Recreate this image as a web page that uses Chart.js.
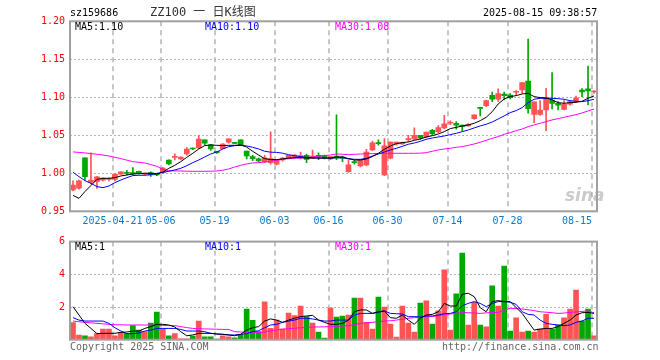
<!DOCTYPE html>
<html><head><meta charset="utf-8">
<script src="https://cdn.jsdelivr.net/npm/chart.js@4.4.1/dist/chart.umd.min.js"></script>
<style>
body{margin:0;background:#fff;}
#wrap{position:relative;width:660px;height:360px;overflow:hidden;font-family:"DejaVu Sans Mono",monospace;}
canvas{position:absolute;left:0;}
.t{position:absolute;white-space:nowrap;font-size:10px;line-height:12px;}
</style></head><body>
<div id="wrap">
<canvas id="kc" width="660" height="230" style="top:0"></canvas>
<canvas id="vc" width="660" height="130" style="top:230px"></canvas>
<div class="t" style="left:70px;top:7px;color:#000">sz159686</div>
<div class="t" style="left:150px;top:5px;font-size:12px;line-height:15px;color:#333;font-family:'DejaVu Sans Mono','Noto Sans CJK SC',monospace">ZZ100 一 日K线图</div>
<div class="t" style="left:483px;top:7px;color:#000">2025-08-15 09:38:57</div>
<div class="t" style="left:75px;top:21px;color:#000">MA5:1.10</div>
<div class="t" style="left:205px;top:21px;color:#0000ff">MA10:1.10</div>
<div class="t" style="left:335px;top:21px;color:#ff00ff">MA30:1.08</div>
<div class="t" style="left:75px;top:241px;color:#000">MA5:1</div>
<div class="t" style="left:205px;top:241px;color:#0000ff">MA10:1</div>
<div class="t" style="left:335px;top:241px;color:#ff00ff">MA30:1</div>
<div class="t" style="left:70px;top:341px;color:#666">Copyright 2025 SINA.COM</div>
<div class="t" style="left:442px;top:341px;color:#666">http://finance.sina.com.cn</div>
<div class="t" style="left:565px;top:186px;font-size:17px;line-height:18px;font-style:italic;font-weight:bold;color:rgba(160,160,160,0.55);font-family:'DejaVu Sans',sans-serif">sina</div>
</div>
<script>
const dates = [
'2025-04-10','2025-04-11','2025-04-14','2025-04-15','2025-04-16','2025-04-17','2025-04-18',
'2025-04-21','2025-04-22','2025-04-23','2025-04-24','2025-04-25','2025-04-28','2025-04-29','2025-04-30',
'2025-05-06','2025-05-07','2025-05-08','2025-05-09','2025-05-12','2025-05-13','2025-05-14','2025-05-15','2025-05-16',
'2025-05-19','2025-05-20','2025-05-21','2025-05-22','2025-05-23','2025-05-26','2025-05-27','2025-05-28','2025-05-29','2025-05-30',
'2025-06-03','2025-06-04','2025-06-05','2025-06-06','2025-06-09','2025-06-10','2025-06-11','2025-06-12','2025-06-13',
'2025-06-16','2025-06-17','2025-06-18','2025-06-19','2025-06-20','2025-06-23','2025-06-24','2025-06-25','2025-06-26','2025-06-27',
'2025-06-30','2025-07-01','2025-07-02','2025-07-03','2025-07-04','2025-07-07','2025-07-08','2025-07-09','2025-07-10','2025-07-11',
'2025-07-14','2025-07-15','2025-07-16','2025-07-17','2025-07-18','2025-07-21','2025-07-22','2025-07-23','2025-07-24','2025-07-25',
'2025-07-28','2025-07-29','2025-07-30','2025-07-31','2025-08-01','2025-08-04','2025-08-05','2025-08-06','2025-08-07','2025-08-08',
'2025-08-11','2025-08-12','2025-08-13','2025-08-14','2025-08-15'];

const open = [
0.978,0.9803,1.0202,0.988,0.989,0.991,0.992,0.992,0.999,1.0009,
1.001,1.0026,0.999,1.001,0.9995,1.001,1.0175,1.021,1.019,1.0254,
1.0333,1.0333,1.0439,1.0373,1.029,1.0325,1.041,1.040,1.0439,1.0294,
1.022,1.019,1.0149,1.014,1.012,1.0175,1.020,1.022,1.0219,1.0237,
1.020,1.0237,1.0237,1.019,1.0228,1.0215,1.0022,1.0149,1.0096,1.011,
1.0307,1.040,0.998,1.020,1.0386,1.0386,1.0443,1.0452,1.050,1.0478,
1.0566,1.0548,1.0597,1.0658,1.0658,1.0636,1.0623,1.072,1.0868,1.089,
1.1026,1.0974,1.1044,1.103,1.1066,1.1097,1.1215,1.0776,1.0776,1.0833,
1.0965,1.0921,1.0842,1.0908,1.0947,1.1096,1.111,1.107];
const high = [
0.990,0.991,1.0205,1.027,0.996,0.994,0.994,0.9995,1.002,1.004,
1.0075,1.003,1.000,1.002,1.000,1.008,1.0178,1.0255,1.0218,1.034,
1.0336,1.050,1.0442,1.038,1.029,1.039,1.0455,1.040,1.044,1.0294,
1.0237,1.020,1.0237,1.0545,1.018,1.021,1.024,1.025,1.028,1.0254,
1.0305,1.027,1.024,1.022,1.0768,1.0228,1.018,1.0175,1.0184,1.0316,
1.0425,1.044,1.0456,1.0415,1.041,1.0412,1.050,1.0597,1.050,1.0544,
1.058,1.0627,1.0763,1.069,1.068,1.0636,1.0654,1.0768,1.0868,1.0965,
1.107,1.111,1.107,1.105,1.1088,1.1193,1.1767,1.0939,1.0956,1.1118,
1.1325,1.0943,1.0956,1.0956,1.1017,1.1114,1.1412,1.1088];
const low = [
0.9768,0.979,0.991,0.986,0.980,0.990,0.990,0.990,0.9985,0.998,
0.998,0.999,0.998,0.996,0.997,0.9995,1.011,1.0175,1.018,1.024,
1.031,1.032,1.037,1.030,1.026,1.032,1.0395,1.039,1.037,1.019,
1.0167,1.015,1.014,1.012,1.011,1.016,1.019,1.020,1.019,1.014,
1.020,1.018,1.019,1.018,1.018,1.0154,1.001,1.012,1.0083,1.0096,
1.0298,1.037,0.997,1.019,1.037,1.038,1.0417,1.0439,1.0447,1.0465,
1.050,1.0535,1.0588,1.064,1.058,1.0557,1.062,1.071,1.0755,1.0877,
1.0943,1.0947,1.0965,1.098,1.1026,1.1053,1.079,1.0667,1.0763,1.0561,
1.0846,1.0833,1.0833,1.0895,1.0939,1.1009,1.0899,1.1053];
const close = [
0.9846,0.990,0.9956,0.991,0.9952,0.9938,0.9932,0.999,1.0018,1.000,
0.9996,1.000,0.9995,0.998,0.998,1.007,1.0123,1.022,1.0215,1.032,
1.032,1.045,1.0395,1.032,1.027,1.0385,1.0452,1.0393,1.0373,1.0228,
1.0193,1.0162,1.0202,1.0195,1.0175,1.020,1.0235,1.024,1.0226,1.0184,
1.0226,1.022,1.0206,1.022,1.020,1.020,1.011,1.014,1.0175,1.028,
1.040,1.039,1.036,1.041,1.041,1.0408,1.0456,1.050,1.0465,1.0544,
1.0522,1.060,1.065,1.0671,1.0632,1.0614,1.0645,1.0768,1.0855,1.0956,
1.0974,1.1048,1.1022,1.0996,1.1075,1.1193,1.0851,1.0939,1.0833,1.0996,
1.0921,1.0895,1.0912,1.0943,1.0991,1.107,1.1083,1.1079];

const ma5 = [
0.971,0.967,0.976,0.984,0.992,0.9934,0.9934,0.9943,0.9965,0.9978,
0.999,0.9996,1.000,1.000,0.999,1.0013,1.0066,1.0105,1.0154,1.021,
1.0263,1.032,1.0364,1.0373,1.0368,1.0364,1.0368,1.0368,1.0373,1.0345,
1.029,1.024,1.0193,1.018,1.018,1.0189,1.020,1.0206,1.0206,1.020,
1.020,1.020,1.020,1.020,1.0215,1.0215,1.0193,1.0175,1.0175,1.0189,
1.022,1.0263,1.0316,1.036,1.039,1.0404,1.0412,1.0434,1.0452,1.0478,
1.0495,1.0518,1.0548,1.0588,1.0605,1.0623,1.0636,1.0658,1.0693,1.0737,
1.0811,1.0912,1.0978,1.1009,1.1022,1.1044,1.1053,1.1009,1.0996,1.0991,
1.0965,1.093,1.0921,1.093,1.0934,1.0947,1.0987,1.1018];
const ma10 = [
1.0013,0.9956,0.9903,0.9868,0.9825,0.9811,0.9833,0.9877,0.9912,0.9943,
0.997,0.9974,0.9974,0.9982,1.000,1.0013,1.0026,1.0044,1.0066,1.010,
1.014,1.0175,1.0215,1.0254,1.028,1.032,1.035,1.0364,1.0368,1.036,
1.0342,1.032,1.029,1.0278,1.0275,1.0265,1.0245,1.023,1.022,1.021,
1.0205,1.0202,1.020,1.020,1.0205,1.0204,1.0193,1.0184,1.0184,1.0197,
1.0228,1.0254,1.028,1.0307,1.0329,1.0355,1.0382,1.0399,1.0421,1.0447,
1.0465,1.0478,1.0491,1.0509,1.0526,1.0548,1.057,1.0597,1.0623,1.0645,
1.0675,1.0715,1.0755,1.0798,1.0825,1.0864,1.093,1.0974,1.0987,1.0987,
1.0987,1.0982,1.0974,1.0956,1.0947,1.0943,1.0956,1.0974];
const ma30 = [
1.0281,1.0275,1.0268,1.026,1.025,1.024,1.0228,1.021,1.0193,1.0173,
1.0153,1.0145,1.0136,1.0115,1.0092,1.0053,1.0035,1.0032,1.003,1.0028,
1.0026,1.0026,1.0026,1.0028,1.003,1.004,1.0057,1.0083,1.0105,1.0123,
1.0136,1.014,1.0149,1.0158,1.0171,1.0184,1.0193,1.0198,1.0202,1.0208,
1.0215,1.0224,1.0232,1.0241,1.0254,1.025,1.0246,1.025,1.0254,1.0257,
1.0259,1.0261,1.0263,1.0263,1.0263,1.0263,1.0263,1.0263,1.0265,1.0272,
1.029,1.0307,1.032,1.0329,1.0342,1.0351,1.0368,1.0386,1.0408,1.0434,
1.046,1.0482,1.0513,1.0535,1.0561,1.0583,1.0614,1.0636,1.0658,1.068,
1.0702,1.0719,1.0737,1.0754,1.0772,1.0794,1.082,1.0846];

const volume = [
1.04,0.29,0.24,0.18,0.37,0.65,0.65,0.24,0.45,0.39,
0.86,0.59,0.49,1.02,1.69,0.63,0.24,0.37,0.06,0.06,
0.22,1.14,0.18,0.18,0.04,0.24,0.18,0.12,0.33,1.88,
1.18,0.5,2.31,0.69,1.2,0.65,1.63,1.47,2.06,1.41,
1.02,0.47,0.1,1.94,1.39,1.45,1.51,2.55,2.55,1.06,
0.65,2.61,2.0,0.96,0.16,2.06,1.02,0.47,2.24,2.37,
0.96,1.76,4.27,0.59,2.8,5.3,0.9,2.29,0.9,0.78,
3.29,2.06,4.51,0.53,1.33,0.47,0.53,0.47,0.65,1.55,
0.65,0.9,1.33,1.88,3.04,1.14,1.88,0.24];
const vma5 = [
2.02,1.51,1.0,0.69,0.37,0.39,0.39,0.39,0.45,0.47,
0.53,0.53,0.69,0.8,0.94,0.94,0.9,0.78,0.49,0.24,
0.29,0.39,0.39,0.39,0.35,0.33,0.29,0.24,0.33,0.59,
0.73,0.8,1.14,1.27,1.2,1.06,1.2,1.31,1.41,1.45,
1.49,1.2,1.06,0.94,0.94,1.0,1.2,1.71,1.82,1.82,
1.61,1.71,1.76,1.35,1.31,1.51,1.2,0.94,1.31,1.51,
1.55,1.71,2.22,2.06,2.06,2.78,2.84,2.63,1.96,1.71,
2.33,2.39,2.33,2.33,1.96,1.61,1.1,0.59,0.65,0.69,
0.69,0.8,1.0,1.2,1.51,1.65,1.67,1.61];
const vma10 = [
1.35,1.2,1.14,1.14,1.14,1.14,1.0,0.73,0.53,0.37,
0.37,0.41,0.53,0.59,0.69,0.69,0.69,0.69,0.63,0.53,
0.53,0.53,0.49,0.39,0.35,0.33,0.29,0.29,0.33,0.37,
0.49,0.55,0.73,0.9,0.94,1.06,1.14,1.2,1.31,1.31,
1.27,1.2,1.14,1.14,1.2,1.2,1.2,1.51,1.61,1.61,
1.61,1.67,1.76,1.61,1.59,1.57,1.41,1.41,1.39,1.45,
1.45,1.51,1.59,1.61,1.71,2.08,2.22,2.33,2.22,2.02,
2.22,2.33,2.33,2.29,2.16,1.71,1.55,1.51,1.2,1.0,
0.94,0.9,0.86,0.9,1.06,1.14,1.31,1.31];
const vma30 = [
1.14,1.1,1.06,1.03,1.0,0.97,0.94,0.92,0.91,0.9,
0.9,0.9,0.9,0.9,0.88,0.87,0.86,0.86,0.8,0.74,
0.69,0.67,0.66,0.65,0.64,0.63,0.63,0.49,0.47,0.45,
0.44,0.43,0.47,0.55,0.6,0.65,0.67,0.7,0.73,0.75,
0.77,0.78,0.79,0.8,0.82,0.84,0.86,0.92,1.0,1.03,
1.06,1.1,1.14,1.16,1.2,1.25,1.31,1.35,1.39,1.41,
1.43,1.46,1.53,1.57,1.62,1.66,1.65,1.63,1.61,1.64,
1.66,1.67,1.8,1.92,1.9,1.88,1.83,1.78,1.71,1.68,
1.65,1.61,1.63,1.67,1.7,1.73,1.76,1.65];

const tickDates = ['2025-04-21','2025-05-06','2025-05-19','2025-06-03','2025-06-16','2025-06-30','2025-07-14','2025-07-28','2025-08-15'];
const tickTexts = ['2025-04-21','05-06','05-19','06-03','06-16','06-30','07-14','07-28','08-15'];
const priceTicks = [0.95,1.00,1.05,1.10,1.15,1.20];
const volTicks = [0,2,4,6];
const volLabels = ['','2','4','6'];

const UP = '#ff5454', DOWN = '#00a800';
const candleColor = close.map((c,i) => c >= open[i] ? UP : DOWN);
const MONO = '"DejaVu Sans Mono", monospace';

function gridX(x, idx) {
  const half = (x.getPixelForValue(1) - x.getPixelForValue(0)) / 2;
  return Math.round(x.getPixelForValue(idx) - half + 1);
}

function gridPlugin(hValues, drawDates) {
  return {
    id: 'kgrid',
    beforeDatasetsDraw(chart) {
      const {ctx, chartArea: a, scales: {x, y}} = chart;
      ctx.save();
      ctx.strokeStyle = '#b4b4b4';
      ctx.lineWidth = 1;
      ctx.setLineDash([2, 2]);
      hValues.forEach(v => {
        const py = Math.round(y.getPixelForValue(v)) + 0.5;
        ctx.beginPath(); ctx.moveTo(a.left, py); ctx.lineTo(a.right, py); ctx.stroke();
      });
      ctx.setLineDash([5, 4]);
      ctx.lineWidth = 1.5;
      tickDates.forEach(d => {
        const px = gridX(x, dates.indexOf(d));
        ctx.beginPath(); ctx.moveTo(px, a.top); ctx.lineTo(px, a.bottom); ctx.stroke();
      });
      ctx.restore();
    },
    afterDatasetsDraw(chart) {
      const {ctx, chartArea: a, scales: {x}} = chart;
      ctx.save();
      ctx.strokeStyle = '#a0a0a0';
      ctx.lineWidth = 2;
      ctx.strokeRect(a.left, a.top, a.right - a.left, a.bottom - a.top);
      if (drawDates) {
        ctx.font = '10px ' + MONO;
        ctx.fillStyle = '#0a7acb';
        ctx.textBaseline = 'middle';
        tickDates.forEach((d, k) => {
          const px = gridX(x, dates.indexOf(d));
          const last = k === tickDates.length - 1;
          ctx.textAlign = last ? 'right' : 'center';
          ctx.fillText(tickTexts[k], last ? px : px - 0.5, a.bottom + 10.5);
        });
      }
      ctx.restore();
    }
  };
}

function lineDs(data, color) {
  return {type: 'line', data, borderColor: color, borderWidth: 1, pointRadius: 0, tension: 0, order: 0, fill: false};
}

const commonX = h => ({
  type: 'category', offset: true,
  grid: {display: false, drawTicks: false}, border: {display: false},
  afterFit: s => { s.height = h; },
  ticks: {display: false}
});

new Chart(document.getElementById('kc'), {
  data: {
    labels: dates,
    datasets: [
      lineDs(ma5, '#000000'), lineDs(ma10, '#0000ff'), lineDs(ma30, '#ff00ff'),
      {type: 'bar', data: open.map((o,i) => [Math.min(o, close[i]), Math.max(o, close[i])]),
       backgroundColor: candleColor, barThickness: 5, grouped: false, minBarLength: 1, order: 2},
      {type: 'bar', data: low.map((l,i) => [l, high[i]]),
       backgroundColor: candleColor, barThickness: 1, grouped: false, order: 3}
    ]
  },
  options: {
    responsive: false, animation: false, devicePixelRatio: 1,
    layout: {padding: {top: 21.3, right: 63, left: 0, bottom: 0}},
    plugins: {legend: {display: false}, tooltip: {enabled: false}},
    scales: {
      x: commonX(18.7),
      y: {
        type: 'linear', min: 0.95, max: 1.20,
        grid: {display: false, drawTicks: false}, border: {display: false},
        afterBuildTicks: s => { s.ticks = priceTicks.map(v => ({value: v})); },
        afterFit: s => { s.width = 70; },
        ticks: {color: '#ff0000', font: {family: MONO, size: 10}, padding: 5, callback: v => Number(v).toFixed(2)}
      }
    }
  },
  plugins: [gridPlugin([1.00, 1.05, 1.10, 1.15], true)]
});

new Chart(document.getElementById('vc'), {
  data: {
    labels: dates,
    datasets: [
      lineDs(vma5, '#000000'), lineDs(vma10, '#0000ff'), lineDs(vma30, '#ff00ff'),
      {type: 'bar', data: volume, backgroundColor: candleColor, barThickness: 5, grouped: false, order: 2}
    ]
  },
  options: {
    responsive: false, animation: false, devicePixelRatio: 1,
    layout: {padding: {top: 11.6, right: 63, left: 0, bottom: 0}},
    plugins: {legend: {display: false}, tooltip: {enabled: false}},
    scales: {
      x: commonX(20.3),
      y: {
        type: 'linear', min: 0, max: 6,
        grid: {display: false, drawTicks: false}, border: {display: false},
        afterBuildTicks: s => { s.ticks = volTicks.map(v => ({value: v})); },
        afterFit: s => { s.width = 70; },
        ticks: {color: '#ff0000', font: {family: MONO, size: 10}, padding: 5,
                callback: v => volLabels[volTicks.indexOf(v)]}
      }
    }
  },
  plugins: [gridPlugin([2, 4], false)]
});
</script>
</body></html>
